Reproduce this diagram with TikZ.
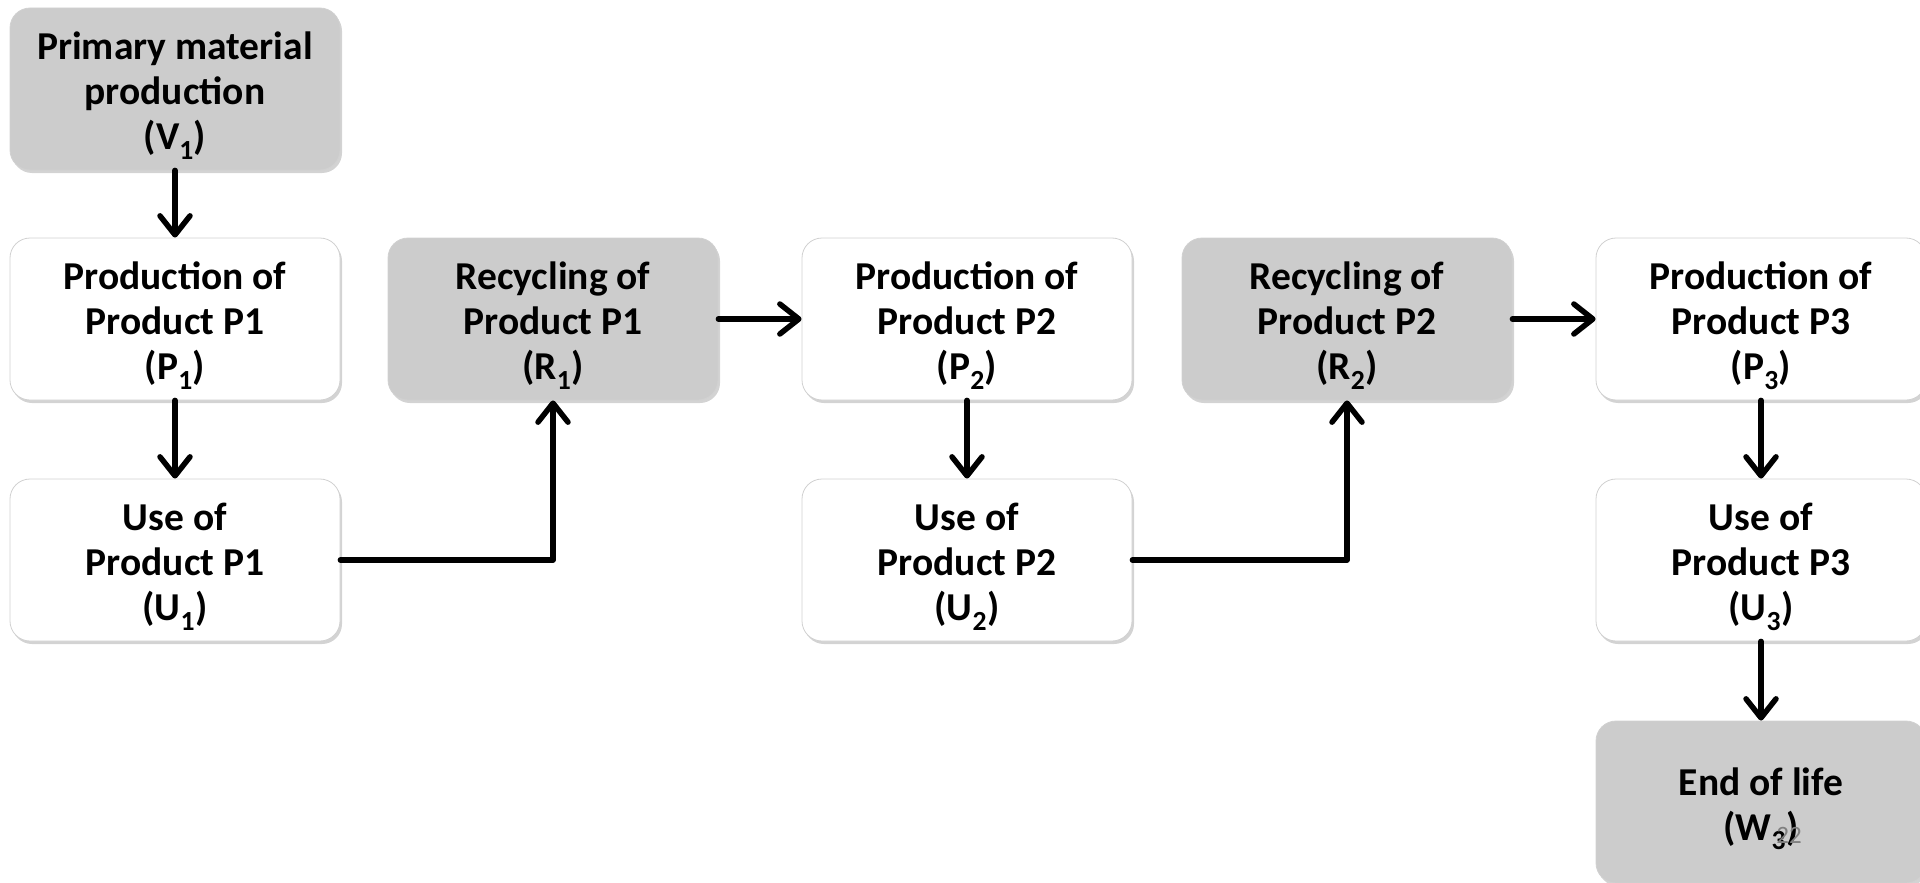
\documentclass[tikz,border=0pt]{standalone}
\usepackage{fontspec}
\setmainfont{Carlito}
\usetikzlibrary{arrows.meta,shadows}
\newcommand{\tp}{\rule{0pt}{41pt}}
\tikzset{
  box/.style={draw=black!18, line width=0.8pt, rounded corners=20pt, minimum width=330pt, minimum height=162pt,
    align=center, inner sep=0pt, font=\fontsize{39.5}{45}\selectfont\bfseries,
    drop shadow={opacity=0.35, shadow xshift=2pt, shadow yshift=-3pt}},
  whitebox/.style={box, fill=white},
  graybox/.style={box, fill=black!20},
  arr/.style={line width=5.5pt, line cap=round, line join=round,
    -{Straight Barb[length=19pt,width=30pt,line cap=round,line join=round]}},
}
\begin{document}
\begin{tikzpicture}[x=1pt,y=-1pt]
\useasboundingbox (0,0) rectangle (1920,883);
\clip (0,0) rectangle (1920,883);
\node[graybox] (V1) at (175,89) {\tp Primary material\\production\\(V\textsubscript{1})};
\node[whitebox] (P1) at (175,319) {\tp Production of\\Product P1\\(P\textsubscript{1})};
\node[whitebox] (U1) at (175,560) {\tp Use of\\Product P1\\(U\textsubscript{1})};
\node[graybox] (R1) at (553,319) {\tp Recycling of\\Product P1\\(R\textsubscript{1})};
\node[whitebox] (P2) at (967,319) {\tp Production of\\Product P2\\(P\textsubscript{2})};
\node[whitebox] (U2) at (967,560) {\tp Use of\\Product P2\\(U\textsubscript{2})};
\node[graybox] (R2) at (1347,319) {\tp Recycling of\\Product P2\\(R\textsubscript{2})};
\node[whitebox] (P3) at (1761,319) {\tp Production of\\Product P3\\(P\textsubscript{3})};
\node[whitebox] (U3) at (1761,560) {\tp Use of\\Product P3\\(U\textsubscript{3})};
\node[graybox] (W3) at (1761,802) {\tp End of life\\(W\textsubscript{3})};
\node[text=black!50, font=\fontsize{25}{28}\selectfont, inner sep=0pt] (pg) at (1789,835) {22};
\draw[arr] (V1) -- (P1);
\draw[arr] (P1) -- (U1);
\draw[arr] (U1.east) -| (R1.south);
\draw[arr] (R1) -- (P2);
\draw[arr] (P2) -- (U2);
\draw[arr] (U2.east) -| (R2.south);
\draw[arr] (R2) -- (P3);
\draw[arr] (P3) -- (U3);
\draw[arr] (U3) -- (W3);
\end{tikzpicture}
\end{document}
